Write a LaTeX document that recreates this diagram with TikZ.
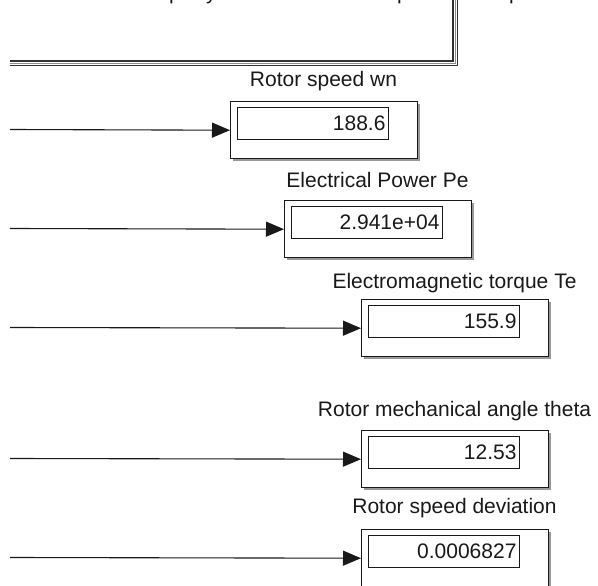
\documentclass[tikz,border=0pt]{standalone}
\usepackage{fontspec}
\setmainfont{Liberation Sans}
\usetikzlibrary{arrows.meta,shadows}
\begin{document}
\begin{tikzpicture}[x=1pt,y=-1pt,
  disp/.style={draw=black!90, line width=1.4pt, fill=white, minimum width=187pt, minimum height=57pt, inner sep=0pt, anchor=north west,
    drop shadow={shadow xshift=2.5pt, shadow yshift=-2.5pt, fill=black, opacity=0.4}},
  valbox/.style={draw=black!90, line width=0.9pt, minimum height=32pt, text width=145pt, inner xsep=3pt, inner ysep=0pt, align=right, anchor=north west, font=\fontsize{21}{21}\selectfont, text=black!90},
  lbl/.style={anchor=base, inner sep=0pt, font=\fontsize{21}{21}\selectfont, text=black!90},
  sig/.style={line width=1.1pt, black!90, -{Triangle[length=18pt,width=15pt]}},
  frag/.style={anchor=base west, inner sep=0pt, font=\fontsize{21}{21}\selectfont, text=black!90}]
\useasboundingbox (0,0) rectangle (598,586);
\clip (0,0) rectangle (598,586);
% cut-off annotation text at the top
\node[frag] (t1) at (169,-0.5) {p};
\node[frag] (t2) at (206,-0.5) {y};
\node[frag] (t3) at (397,-0.5) {p};
\node[frag] (t4) at (509,-0.5) {p};
% bus line
\coordinate (bs) at (10,63.5);
\coordinate (bc) at (455,63.5);
\coordinate (be) at (455,-10);
\draw[line width=6pt, black!80, line join=miter] (bs) -- (bc) -- (be);
\draw[line width=3pt, white, line join=miter] (bs) -- (bc) -- (be);
\draw[line width=0.8pt, black!45, line join=miter] (bs) -- (bc) -- (be);
% display blocks
\node[disp] (b1) at (230,101) {};
\node[disp] (b2) at (284,200) {};
\node[disp] (b3) at (361,299) {};
\node[disp] (b4) at (361,430) {};
\node[disp] (b5) at (361,529) {};
\node[valbox] (v1) at (237,107) {188.6};
\node[valbox] (v2) at (291,206) {2.941e+04};
\node[valbox] (v3) at (368,305) {155.9};
\node[valbox] (v4) at (368,436) {12.53};
\node[valbox] (v5) at (368,535) {0.0006827};
\node[lbl] (l1) at (323.5,87) {Rotor speed wn};
\node[lbl] (l2) at (377.5,187) {Electrical Power Pe};
\node[lbl] (l3) at (454.5,288) {Electromagnetic torque Te};
\node[lbl] (l4) at (454.5,416) {Rotor mechanical angle theta};
\node[lbl] (l5) at (454.5,513) {Rotor speed deviation};
% signal lines
\coordinate (s1) at (10,129.5);
\coordinate (s2) at (10,228.5);
\coordinate (s3) at (10,327.5);
\coordinate (s4) at (10,458.5);
\coordinate (s5) at (10,557.5);
\draw[sig] (s1) -- (b1.west);
\draw[sig] (s2) -- (b2.west);
\draw[sig] (s3) -- (b3.west);
\draw[sig] (s4) -- (b4.west);
\draw[sig] (s5) -- (b5.west);
\end{tikzpicture}
\end{document}
